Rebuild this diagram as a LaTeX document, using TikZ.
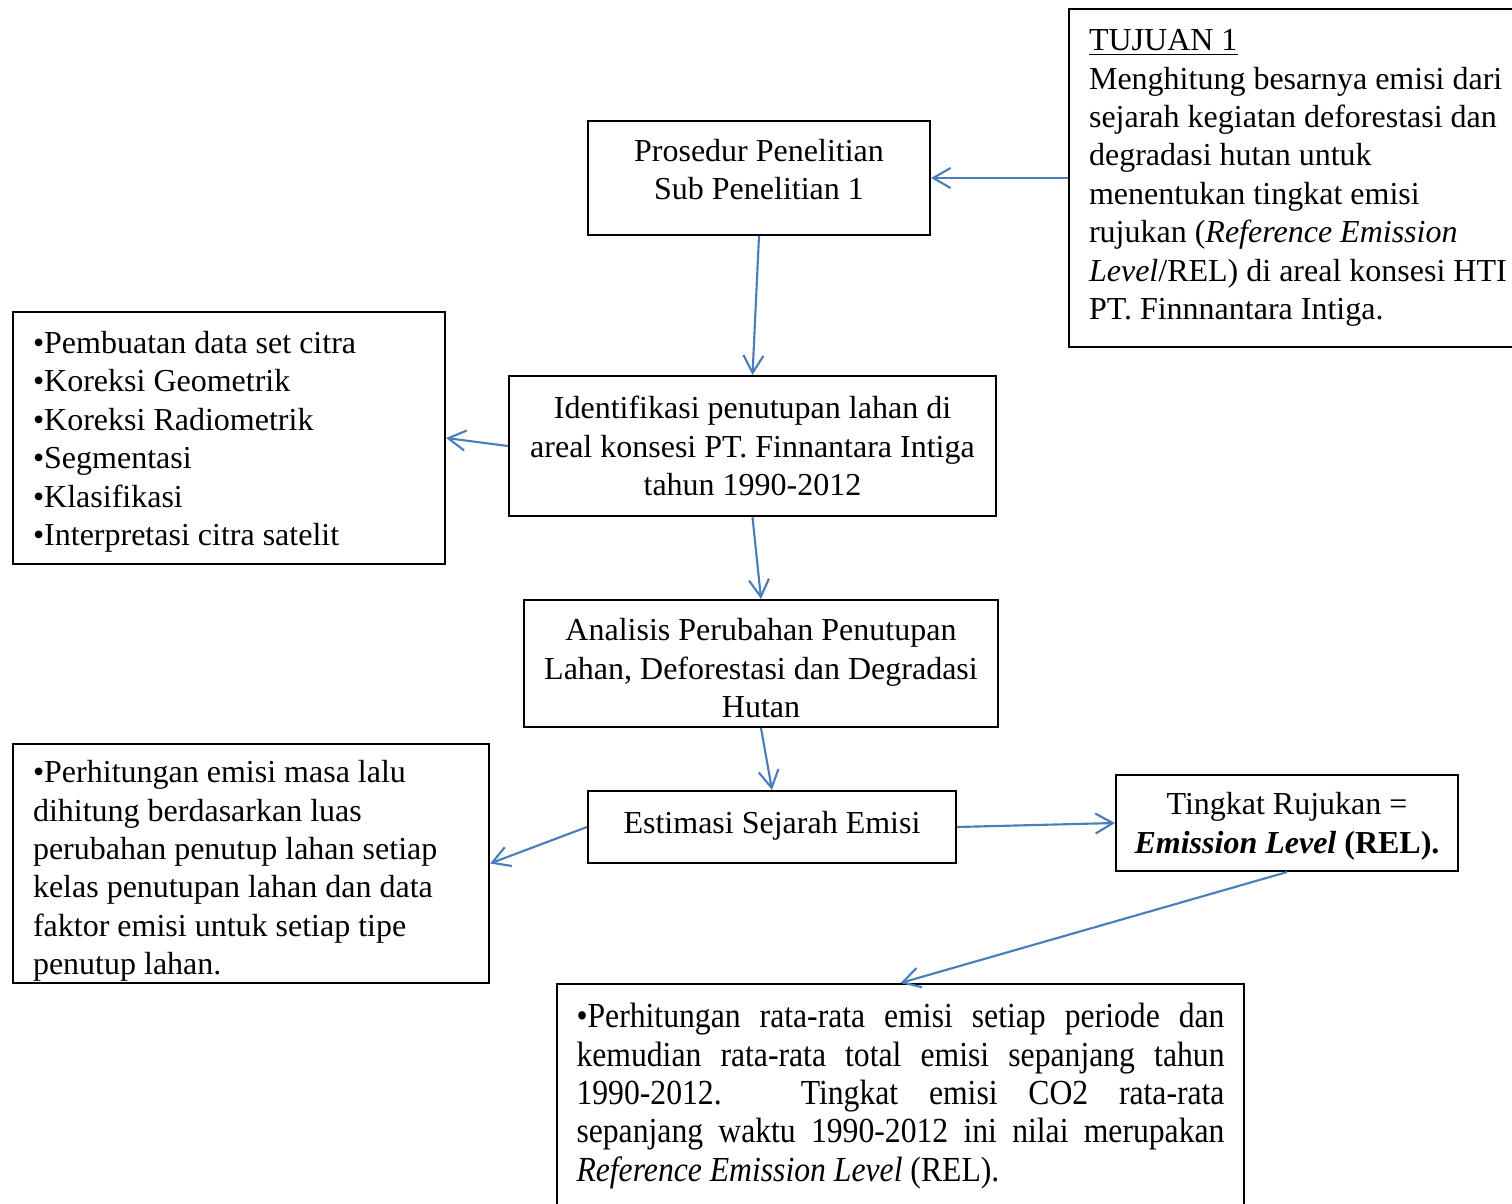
\documentclass[tikz,border=0pt]{standalone}
\usepackage{fontspec}
\setmainfont{Liberation Serif}
\newfontfamily\narrowserif[FakeStretch=0.9]{Liberation Serif}
\usepackage{xcolor}
\usepackage{tikz}
\usetikzlibrary{arrows.meta}
\definecolor{linkblue}{RGB}{74,126,187}

\begin{document}
\begin{tikzpicture}[x=0.375pt,y=-0.375pt,
    every node/.style={draw,shape=rectangle,line width=0.8pt,inner sep=0pt,
      font=\fontsize{12}{14.4}\selectfont},
    link/.style={draw=linkblue,line width=0.8pt,-{Straight Barb[length=6.5pt,width=7.5pt]}}]
  \clip (0,0) rectangle (1512,1204);

  \node[anchor=west, minimum width=183.75pt, minimum height=126.75pt,
      text width=168.75pt, align=flush left] (tujuan) at (1068,178)
    {\underline{TUJUAN 1}\\
     Menghitung besarnya emisi dari\\
     sejarah kegiatan deforestasi dan\\
     degradasi hutan untuk\\
     menentukan tingkat emisi\\
     rujukan (\textit{Reference Emission}\\
     \textit{Level}/REL) di areal konsesi HTI\\
     PT. Finnnantara Intiga.};
  \node[minimum width=128.25pt, minimum height=42.75pt, align=center, text depth=6.5pt]
    (prosedur) at (759,178) {Prosedur Penelitian\\ Sub Penelitian 1};
  \node[minimum width=182.6pt, minimum height=52.5pt, align=center]
    (identifikasi) at (752.5,446)
    {Identifikasi penutupan lahan di\\
     areal konsesi PT. Finnantara Intiga\\
     tahun 1990-2012};
  \node[minimum width=162pt, minimum height=94.5pt, text width=147pt, align=flush left,
      text height=11.2pt]
    (citra) at (229,438)
    {•Pembuatan data set citra\\
     •Koreksi Geometrik\\
     •Koreksi Radiometrik\\
     •Segmentasi\\
     •Klasifikasi\\
     •Interpretasi citra satelit};
  \node[minimum width=177.75pt, minimum height=47.6pt, align=center, text height=40.8pt]
    (analisis) at (761,663.5)
    {Analisis Perubahan Penutupan\\
     Lahan, Deforestasi dan Degradasi\\
     Hutan};
  \node[minimum width=138pt, minimum height=27pt, text depth=3.5pt]
    (estimasi) at (772,827) {Estimasi Sejarah Emisi};
  \node[minimum width=178.5pt, minimum height=89.6pt, text width=163.5pt, align=flush left,
      text height=14pt]
    (masalalu) at (251,863.5)
    {•Perhitungan emisi masa lalu\\
     dihitung berdasarkan luas\\
     perubahan penutup lahan setiap\\
     kelas penutupan lahan dan data\\
     faktor emisi untuk setiap tipe\\
     penutup lahan.};
  \node[minimum width=128.25pt, minimum height=36pt, align=center, text depth=0pt]
    (rujukan) at (1287,823)
    {Tingkat Rujukan =\\
     \textbf{\textit{Emission Level}} \textbf{(REL).}};
  \node[anchor=north, minimum width=257.6pt, minimum height=84pt, text width=243pt,
      align=justify]
    (ratarata) at (900.5,983)
    {\narrowserif\fontsize{13.2}{14.4}\selectfont\hyphenpenalty=10000
     •Perhitungan rata-rata emisi setiap periode dan\linebreak
     kemudian rata-rata total emisi sepanjang tahun\linebreak
     1990-2012. Tingkat emisi CO2 rata-rata\linebreak
     sepanjang waktu 1990-2012 ini nilai merupakan\linebreak
     \textit{Reference Emission Level} (REL).};

  \draw[link] (tujuan.west) -- (prosedur.east);
  \draw[link] (prosedur.south) -- (identifikasi.north);
  \draw[link] (identifikasi.west) -- (citra.east);
  \draw[link] (identifikasi.south) -- (analisis.north);
  \draw[link] (analisis.south) -- (estimasi.north);
  \draw[link] (estimasi.west) -- (masalalu.east);
  \draw[link] (estimasi.east) -- (rujukan.west);
  \draw[link] (rujukan.south) -- (ratarata.north);
\end{tikzpicture}
\end{document}
